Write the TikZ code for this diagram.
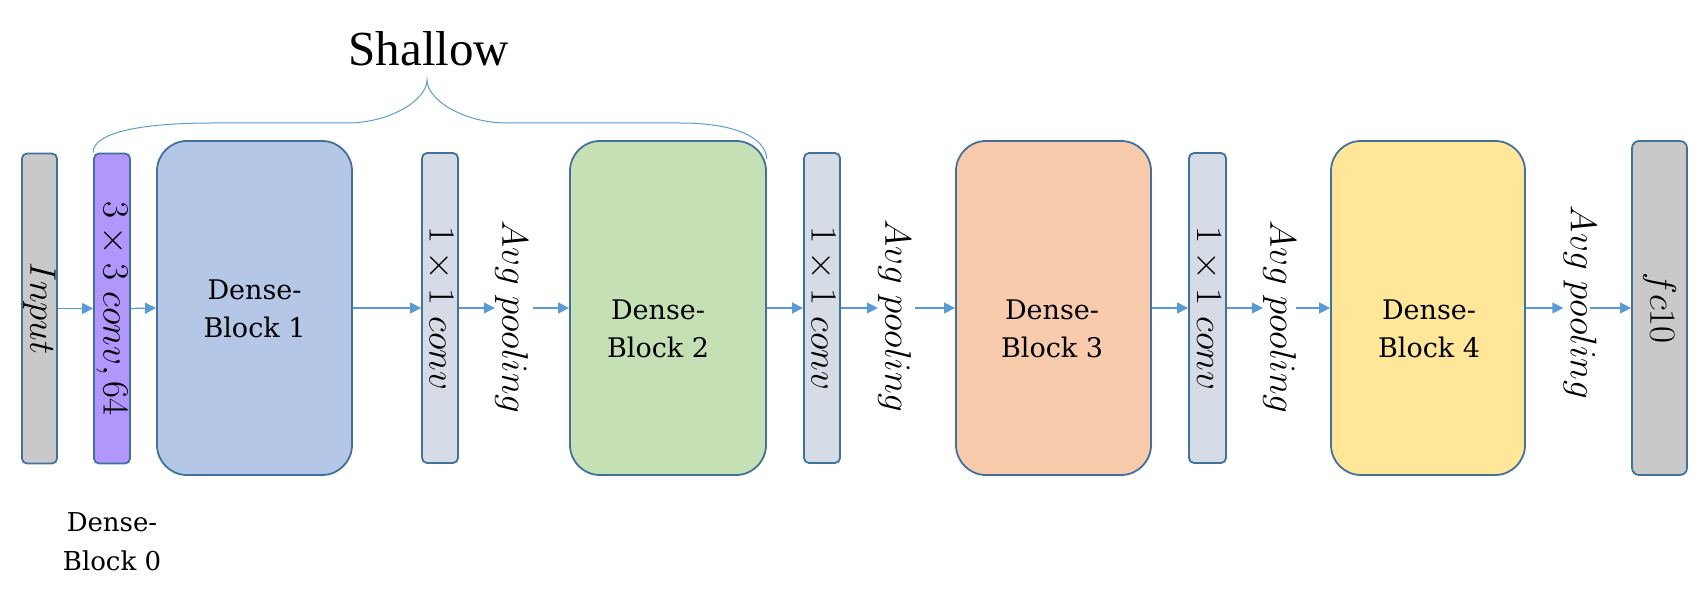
\RequirePackage{fix-cm}
\documentclass[tikz,border=0pt]{standalone}
\usepackage{fontspec}
\newfontfamily\shallowfont{Liberation Serif}
\newfontfamily\labelfont{DejaVu Serif}
\usetikzlibrary{arrows.meta}
\definecolor{bord}{HTML}{41719C}
\definecolor{arrc}{HTML}{5B9BD5}
\definecolor{greyfill}{HTML}{C9C9C9}
\definecolor{purplefill}{HTML}{B196FB}
\definecolor{bluefill}{HTML}{B4C7E7}
\definecolor{convfill}{HTML}{D6DCE5}
\definecolor{greenfill}{HTML}{C5E0B4}
\definecolor{orangefill}{HTML}{F8CBAD}
\definecolor{yellowfill}{HTML}{FFE699}
\begin{document}
\begin{tikzpicture}[x=1pt,y=-1pt,
  thinbox/.style={draw=bord, line width=1.8pt, rounded corners=5pt, rotate=-90, inner sep=0pt,
    minimum width=310pt, minimum height=36pt, font=\fontsize{37}{44}\selectfont},
  blockbox/.style={draw=bord, line width=1.8pt, rounded corners=30pt, inner sep=0pt,
    minimum width=195pt, minimum height=334pt},
  blocklabel/.style={align=center, inner sep=0pt, font=\labelfont\fontsize{27}{38}\selectfont},
  pooltext/.style={rotate=-90, inner sep=0pt, font=\fontsize{37}{44}\selectfont},
  arr/.style={draw=arrc, line width=1.3pt, -{Triangle[length=11pt,width=11pt]}},
  brace/.style={draw=arrc, line width=1pt}]
\useasboundingbox (0,0) rectangle (1703,593);

% narrow boxes
\node[thinbox, fill=greyfill, minimum height=35pt] (in) at (39.5,308.5) {$Input$};
\node[thinbox, fill=purplefill] (c33) at (112,308.5) {$3\times3\ conv,64$};
\node[thinbox, fill=convfill] (c1) at (440,308) {$1\times1\ conv$};
\node[thinbox, fill=convfill] (c2) at (822,308) {$1\times1\ conv$};
\node[thinbox, fill=convfill, minimum height=37pt] (c3) at (1207.5,308) {$1\times1\ conv$};
\node[thinbox, fill=greyfill, minimum width=334pt, minimum height=55pt, rounded corners=7pt] (fc) at (1659.5,308) {$fc10$};

% dense blocks
\node[blockbox, fill=bluefill] (db1) at (254.5,308) {};
\node[blockbox, fill=greenfill, minimum width=196pt] (db2) at (668,308) {};
\node[blockbox, fill=orangefill] (db3) at (1053.5,308) {};
\node[blockbox, fill=yellowfill, minimum width=194pt] (db4) at (1428,308) {};

\node[blocklabel] (db1t) at (254.5,309) {Dense-\\Block 1};
\node[blocklabel] (db2t) at (658,329) {Dense-\\Block 2};
\node[blocklabel] (db3t) at (1052,329) {Dense-\\Block 3};
\node[blocklabel] (db4t) at (1429,329) {Dense-\\Block 4};
\node[align=center, inner sep=0pt, font=\labelfont\fontsize{26}{39}\selectfont] (db0t) at (112,542) {Dense-\\Block 0};

% pooling labels
\node[pooltext] (p1) at (511.5,317) {$Avg\ pooling$};
\node[pooltext] (p2) at (894.5,316) {$Avg\ pooling$};
\node[pooltext] (p3) at (1279.5,317) {$Avg\ pooling$};
\node[pooltext] (p4) at (1580,302.5) {$Avg\ pooling$};

% Shallow
\node[font=\shallowfont\fontsize{49}{58}\selectfont, anchor=base, inner sep=0pt] (shallow) at (429,66) {Shallow};

% arrows
\draw[arr] (in.north) -- (c33.south);
\draw[arr] (c33.north) -- (db1.west);
\draw[arr] (db1.east) -- (c1.south);
\draw[arr] (c1.north) -- (c1.north -| p1.south);
\draw[arr, shorten <=5pt] (p1.north |- db2.west) -- (db2.west);
\draw[arr] (db2.east) -- (c2.south);
\draw[arr] (c2.north) -- (c2.north -| p2.south);
\draw[arr, shorten <=4pt] (p2.north |- db3.west) -- (db3.west);
\draw[arr] (db3.east) -- (c3.south);
\draw[arr] (c3.north) -- (c3.north -| p3.south);
\draw[arr] (p3.north |- db4.west) -- (db4.west);
\draw[arr] (db4.east) -- (db4.east -| p4.south);
\draw[arr, shorten <=-7pt] (p4.north |- fc.south) -- (fc.south);

% brace
\coordinate (tip) at (427,80);
\draw[brace] (c33.south |- c33.west) .. controls +(0,-20) and (140,123) .. (213,123)
  -- (347,123) .. controls (390,123) and (427,100) .. (tip)
  .. controls (427,100) and (464,123) .. (507,123)
  -- (680,123) .. controls (730,123) and (765,135) .. ([yshift=-19pt]db2.north east);
\end{tikzpicture}
\end{document}
